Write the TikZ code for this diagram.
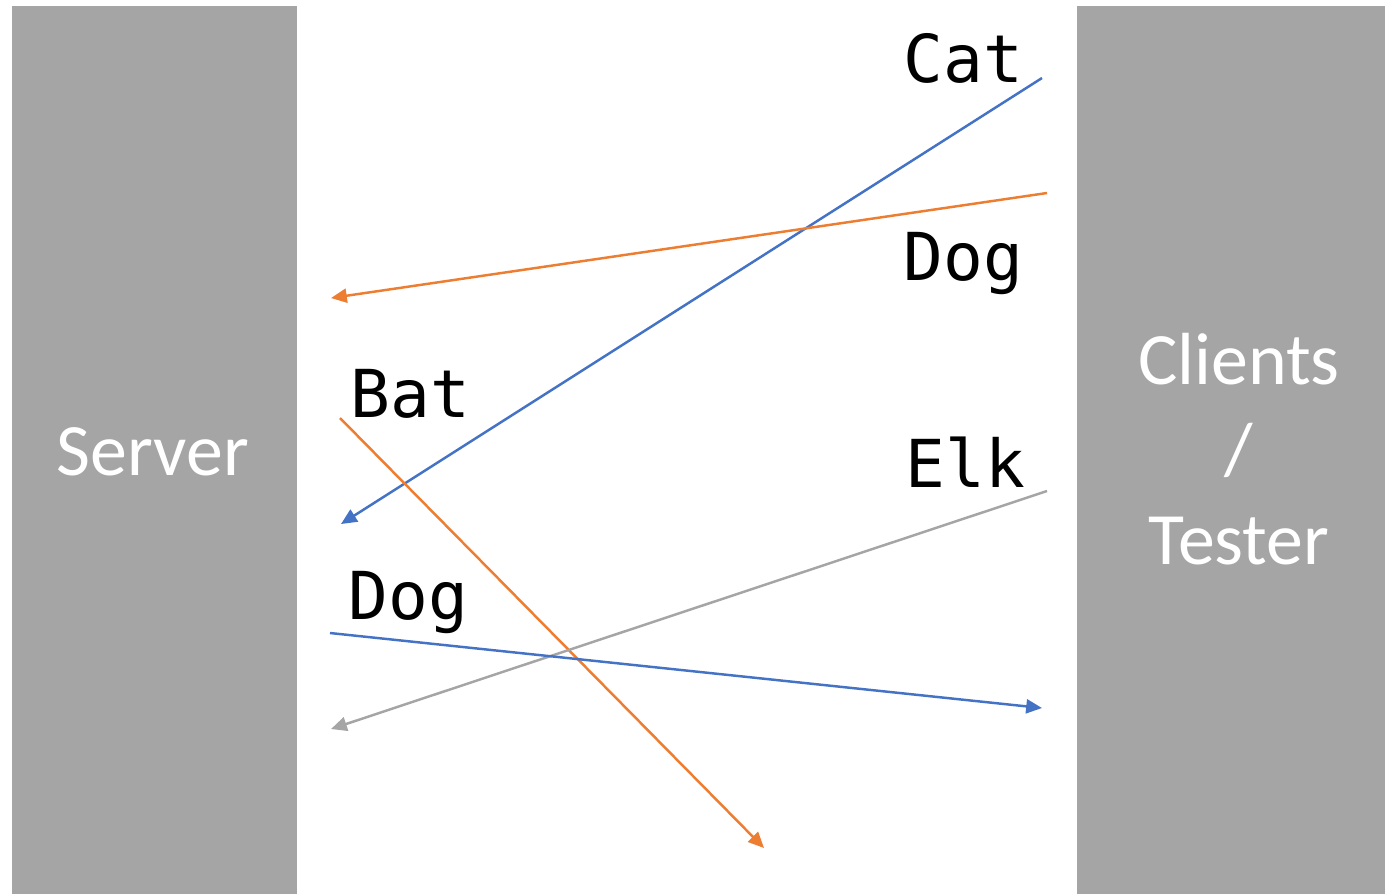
\documentclass[tikz,border=0pt]{standalone}
\usepackage{fontspec}
\setmainfont{Carlito}
\newfontfamily\monof{DejaVu Sans Mono}
\usetikzlibrary{arrows.meta}
\definecolor{pgrey}{HTML}{A5A5A5}
\definecolor{pblue}{HTML}{4472C4}
\definecolor{porange}{HTML}{ED7D31}
\tikzset{
  panel/.style={fill=pgrey, draw=none, inner sep=0},
  paneltext/.style={text=white, font=\fontsize{21}{26}\selectfont, align=center},
  msg/.style={line width=0.7pt, -{Triangle[length=4.5pt,width=4pt]}},
  word/.style={font=\monof\fontsize{18.8}{22}\selectfont, anchor=base west, inner sep=0, text=black}
}
\begin{document}
\begin{tikzpicture}[x=0.01cm,y=-0.01cm]
\useasboundingbox (0,0) rectangle (1385,893);
\fill[white] (0,0) rectangle (1385,893);
\node[panel, minimum width=2.85cm, minimum height=8.88cm, anchor=north west] (server) at (11,5) {};
\node[panel, minimum width=3.09cm, minimum height=8.88cm, anchor=north west] (clients) at (1076,5) {};
\node[paneltext, anchor=base] (servertext) at (153,475) {Server};
\node[paneltext, anchor=base] (c1) at (1239,384) {Clients};
\node[paneltext, anchor=base] (c2) at (1239,474) {/};
\node[paneltext, anchor=base] (c3) at (1239,564) {Tester};
\node[word] (cat) at (903,82) {Cat};
\node[word] (dog1) at (903,280) {Dog};
\node[word] (bat) at (350,417) {Bat};
\node[word] (elk) at (905,487) {Elk};
\node[word] (dog2) at (348,619) {Dog};
\coordinate (catS) at (1042,78);
\coordinate (catE) at (341,524);
\coordinate (dogS) at (1047,193);
\coordinate (dogE) at (331,298);
\coordinate (batS) at (340,418);
\coordinate (batE) at (764,848);
\coordinate (elkS) at (1047,491);
\coordinate (elkE) at (331,729);
\coordinate (dog2S) at (330,633);
\coordinate (dog2E) at (1042,708);
\draw[msg, pblue] (catS) -- (catE);
\draw[msg, porange] (dogS) -- (dogE);
\draw[msg, porange] (batS) -- (batE);
\draw[msg, pgrey] (elkS) -- (elkE);
\draw[msg, pblue] (dog2S) -- (dog2E);
\end{tikzpicture}
\end{document}
